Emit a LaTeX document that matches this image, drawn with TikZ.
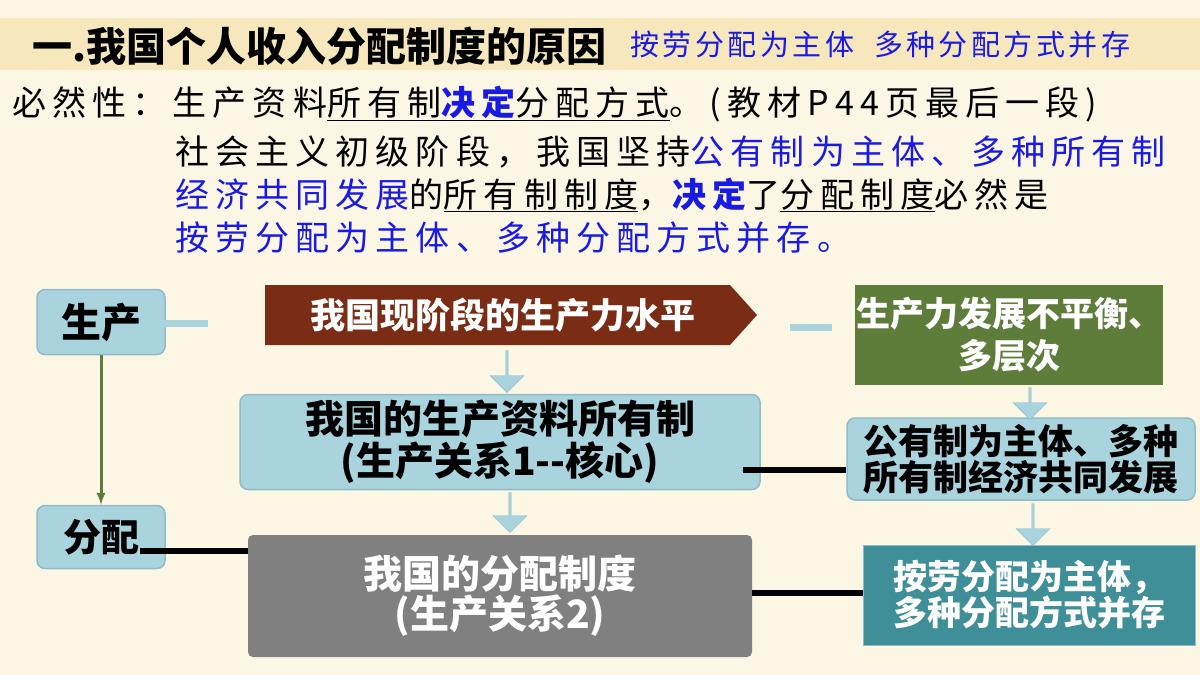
\documentclass[tikz,border=0pt]{standalone}
\usepackage{fontspec}
\setmainfont{Noto Sans CJK SC}
\usetikzlibrary{shapes.arrows}
\definecolor{bg}{HTML}{FBF7E4}
\definecolor{band}{HTML}{F6E7BC}
\definecolor{lb}{HTML}{A9D3DD}
\definecolor{lbd}{HTML}{8FBCC8}
\definecolor{brown}{HTML}{7A2D14}
\definecolor{grn}{HTML}{5E7D3A}
\definecolor{gry}{HTML}{808080}
\definecolor{teal}{HTML}{3F8F98}
\definecolor{bl}{HTML}{1A1AE6}
\tikzset{
 lbox/.style={draw=lbd,fill=lb,rounded corners=8pt,line width=1.5pt,align=center,inner sep=0pt},
 wtext/.style={align=center,text=white,inner sep=0pt},
 barc/.style={draw=lb,line width=7pt},
 blk/.style={draw=black,line width=6pt},
 darr/.style={single arrow,fill=lb,draw=lbd,rotate=-90,minimum width=34pt,single arrow head extend=3pt,inner sep=0pt},
 ln/.style={anchor=west,inner sep=0pt,font=\fontsize{34}{36}\selectfont\addfontfeatures{LetterSpace=18}}
}
\begin{document}
\begin{tikzpicture}[x=1pt,y=-1pt]
\useasboundingbox (0,0) rectangle (1200,675);
\fill[bg] (0,0) rectangle (1200,675);
\fill[band] (0,18) rectangle (1200,70);
\node[anchor=west,inner sep=0pt,font=\fontsize{40}{42}\selectfont\bfseries] (title) at (32,46) {一.我国个人收入分配制度的原因};
\node[anchor=west,inner sep=0pt,text=bl,font=\fontsize{29}{30}\selectfont\addfontfeatures{LetterSpace=12}] (sub) at (630,44) {按劳分配为主体\ \ 多种分配方式并存};
\node[ln] (l1) at (12,104) {必然性：生产资料\underline{所有制\textcolor{bl}{\bfseries 决定}分配方式}。(教材P44页最后一段)};
\node[ln] (l2) at (175,152) {社会主义初级阶段，我国坚持\textcolor{bl}{公有制为主体、多种所有制}};
\node[ln] (l3) at (175,195) {\textcolor{bl}{经济共同发展}的\underline{所有制制度}，\textcolor{bl}{\bfseries 决定}了\underline{分配制度}必然是};
\node[ln,text=bl] (l4) at (175,238) {按劳分配为主体、多种分配方式并存。};
% left boxes
\node[lbox,minimum width=128pt,minimum height=65pt,font=\fontsize{40}{40}\selectfont\bfseries] (sc) at (101,322) {生产};
\node[lbox,minimum width=128pt,minimum height=63pt,font=\fontsize{38}{40}\selectfont\bfseries] (fp) at (101,537) {分配};
\draw[grn,line width=3pt,-latex] (sc.south) -- (fp.north);
\coordinate (scR) at (208,323);
\draw[barc] (145,323) -- (scR);
% brown pentagon
\fill[brown] (265,285) -- (730,285) -- (757,315) -- (730,345) -- (265,345) -- cycle;
\node[wtext,font=\fontsize{35}{38}\selectfont\bfseries] (bt) at (503,315) {我国现阶段的生产力水平};
\coordinate (bar2a) at (790,327);
\coordinate (bar2b) at (832,327);
\draw[barc] (bar2a) -- (bar2b);
\node[fill=grn,minimum width=308pt,minimum height=100pt,wtext,font=\fontsize{34}{42}\selectfont\bfseries] (gb) at (1009,335) {生产力发展不平衡、\\多层次};
% middle
\node[lbox,minimum width=520pt,minimum height=95pt,font=\fontsize{39}{42}\selectfont\bfseries] (own) at (500,442) {我国的生产资料所有制\\(生产关系1-{}-核心)};
\node[lbox,minimum width=348pt,minimum height=82pt,font=\fontsize{35}{36}\selectfont\bfseries] (pub) at (1021,459) {公有制为主体、多种\\所有制经济共同发展};
\node[fill=gry,rounded corners=5pt,minimum width=504pt,minimum height=122pt,wtext,font=\fontsize{39}{40}\selectfont\bfseries] (dist) at (500,596) {我国的分配制度\\(生产关系2)};
\node[fill=teal,draw=lbd,line width=1pt,minimum width=332pt,minimum height=100pt,wtext,font=\fontsize{34}{36}\selectfont\bfseries] (an) at (1029,595) {按劳分配为主体，\\多种分配方式并存};
% arrows
\node[darr,minimum height=42pt] (a1) at (507,371) {};
\node[darr,minimum height=40pt] (a2) at (510,512) {};
\node[darr,minimum height=32pt] (a3) at (1030,403) {};
\node[darr,minimum height=42pt] (a4) at (1033,524) {};
% black lines
\draw[blk] (743,470) -- (pub.west|-743,470);
\draw[blk] (140,551) -- (dist.west|-140,551);
\draw[blk] (dist.east|-757,593) -- (an.west|-757,593);
\end{tikzpicture}
\end{document}
